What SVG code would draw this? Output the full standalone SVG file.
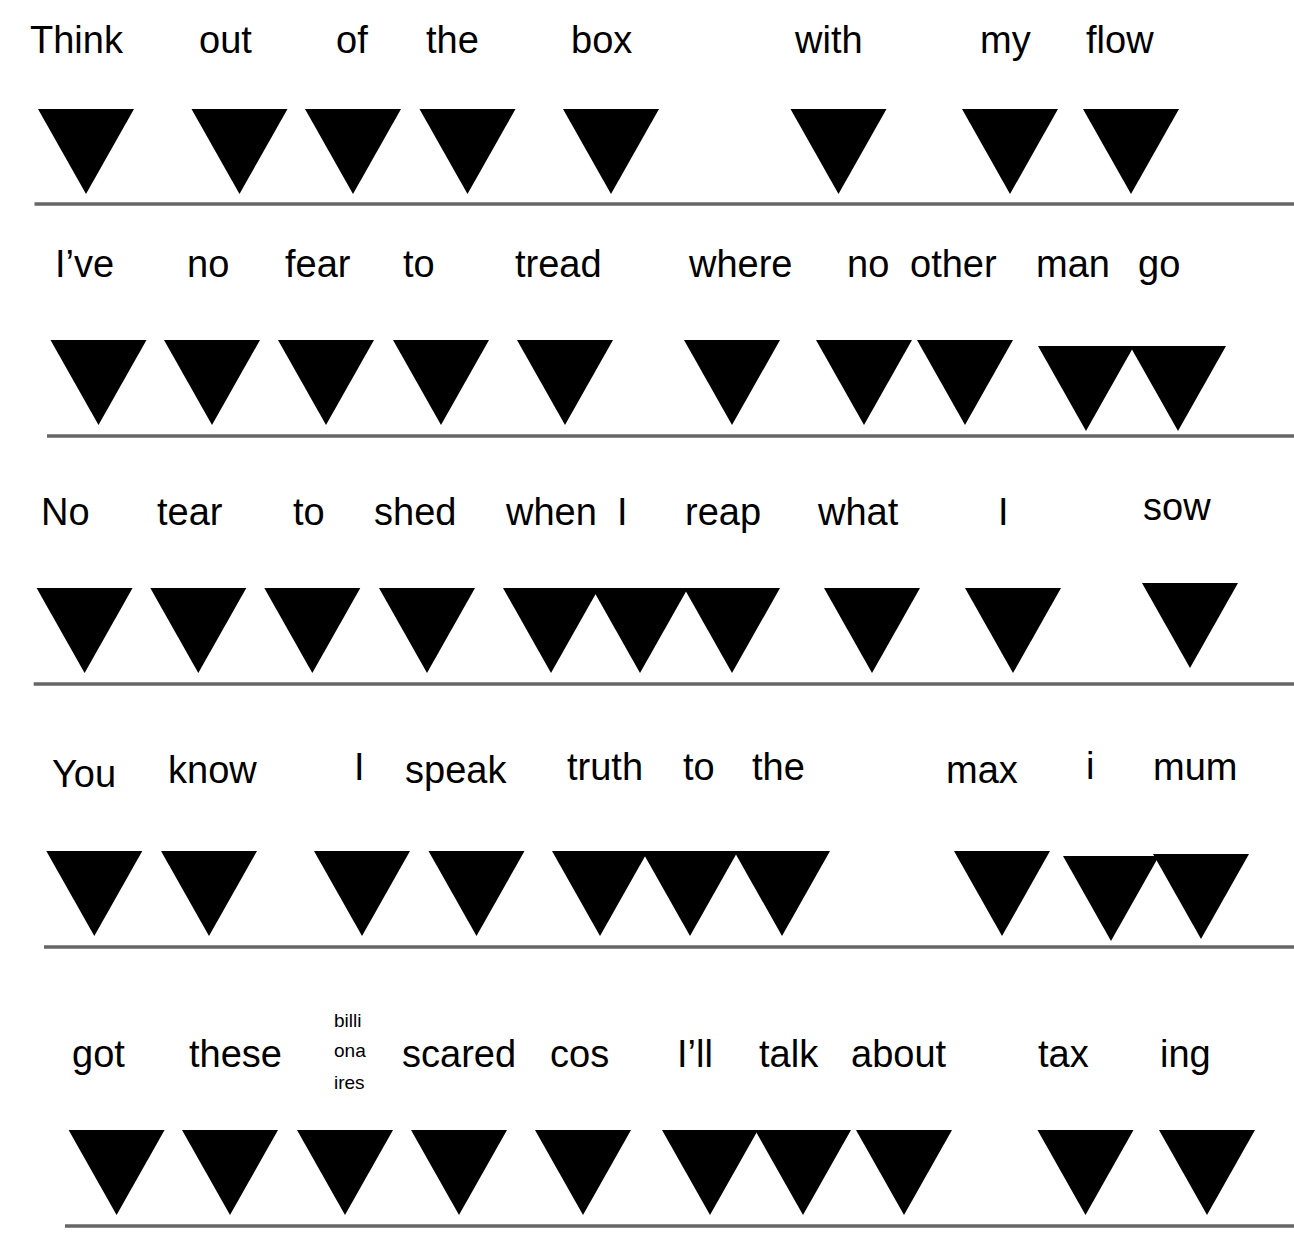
<svg xmlns="http://www.w3.org/2000/svg" xmlns:xlink="http://www.w3.org/1999/xlink" width="1294" height="1245" viewBox="0 0 1294 1245">
<defs>
<style>
.w{font-family:"Liberation Sans",Arial,sans-serif;font-size:38px;fill:#000}
.s{font-family:"Liberation Sans",Arial,sans-serif;font-size:19px;fill:#000}
.ln{stroke:#666;stroke-width:3.5;fill:none}
</style>
<polygon id="tri" points="0,0 96,0 48,85" fill="#000"/>
</defs>
<rect width="1294" height="1245" fill="#fff"/>
<g id="row1">
<text class="w" x="30" y="53">Think</text>
<text class="w" x="199" y="53">out</text>
<text class="w" x="336" y="53">of</text>
<text class="w" x="426" y="53">the</text>
<text class="w" x="571" y="53">box</text>
<text class="w" x="795" y="53">with</text>
<text class="w" x="980" y="53">my</text>
<text class="w" x="1086" y="53">flow</text>
<use xlink:href="#tri" x="38" y="109"/>
<use xlink:href="#tri" x="191.5" y="109"/>
<use xlink:href="#tri" x="305" y="109"/>
<use xlink:href="#tri" x="419.5" y="109"/>
<use xlink:href="#tri" x="563" y="109"/>
<use xlink:href="#tri" x="790.5" y="109"/>
<use xlink:href="#tri" x="962" y="109"/>
<use xlink:href="#tri" x="1083" y="109"/>
</g>
<g id="row2">
<text class="w" x="55" y="277">I’ve</text>
<text class="w" x="187" y="277">no</text>
<text class="w" x="285" y="277">fear</text>
<text class="w" x="403" y="277">to</text>
<text class="w" x="515" y="277">tread</text>
<text class="w" x="689" y="277">where</text>
<text class="w" x="847" y="277">no</text>
<text class="w" x="910" y="277">other</text>
<text class="w" x="1036" y="277">man</text>
<text class="w" x="1138" y="277">go</text>
<use xlink:href="#tri" x="50.5" y="340"/>
<use xlink:href="#tri" x="164" y="340"/>
<use xlink:href="#tri" x="278" y="340"/>
<use xlink:href="#tri" x="393" y="340"/>
<use xlink:href="#tri" x="517" y="340"/>
<use xlink:href="#tri" x="684" y="340"/>
<use xlink:href="#tri" x="816" y="340"/>
<use xlink:href="#tri" x="917" y="340"/>
<use xlink:href="#tri" x="1038" y="346"/>
<use xlink:href="#tri" x="1130" y="346"/>
</g>
<g id="row3">
<text class="w" x="41" y="525">No</text>
<text class="w" x="157" y="525">tear</text>
<text class="w" x="293" y="525">to</text>
<text class="w" x="374" y="525">shed</text>
<text class="w" x="506" y="525">when</text>
<text class="w" x="617" y="525">I</text>
<text class="w" x="685" y="525">reap</text>
<text class="w" x="818" y="525">what</text>
<text class="w" x="998" y="525">I</text>
<text class="w" x="1143" y="520">sow</text>
<use xlink:href="#tri" x="36.6" y="588"/>
<use xlink:href="#tri" x="150.3" y="588"/>
<use xlink:href="#tri" x="264.3" y="588"/>
<use xlink:href="#tri" x="379" y="588"/>
<use xlink:href="#tri" x="503" y="588"/>
<use xlink:href="#tri" x="592" y="588"/>
<use xlink:href="#tri" x="684" y="588"/>
<use xlink:href="#tri" x="824" y="588"/>
<use xlink:href="#tri" x="965" y="588"/>
<use xlink:href="#tri" x="1142" y="583"/>
</g>
<g id="row4">
<text class="w" x="52" y="787">You</text>
<text class="w" x="168" y="783">know</text>
<text class="w" x="354" y="780">I</text>
<text class="w" x="405" y="783">speak</text>
<text class="w" x="567" y="780">truth</text>
<text class="w" x="683" y="780">to</text>
<text class="w" x="752" y="780">the</text>
<text class="w" x="946" y="783">max</text>
<text class="w" x="1086" y="779">i</text>
<text class="w" x="1153" y="780">mum</text>
<use xlink:href="#tri" x="46.3" y="851"/>
<use xlink:href="#tri" x="161" y="851"/>
<use xlink:href="#tri" x="314" y="851"/>
<use xlink:href="#tri" x="428.5" y="851"/>
<use xlink:href="#tri" x="552" y="851"/>
<use xlink:href="#tri" x="642" y="851"/>
<use xlink:href="#tri" x="734" y="851"/>
<use xlink:href="#tri" x="954" y="851"/>
<use xlink:href="#tri" x="1063" y="856"/>
<use xlink:href="#tri" x="1153" y="854"/>
</g>
<g id="row5">
<text class="w" x="72" y="1067">got</text>
<text class="w" x="189" y="1067">these</text>
<text class="s" x="334" y="1027">billi</text>
<text class="s" x="334" y="1057">ona</text>
<text class="s" x="334" y="1089">ires</text>
<text class="w" x="402" y="1067">scared</text>
<text class="w" x="550" y="1067">cos</text>
<text class="w" x="677" y="1067">I’ll</text>
<text class="w" x="759" y="1067">talk</text>
<text class="w" x="851" y="1067">about</text>
<text class="w" x="1038" y="1067">tax</text>
<text class="w" x="1160" y="1067">ing</text>
<use xlink:href="#tri" x="68.6" y="1130"/>
<use xlink:href="#tri" x="182" y="1130"/>
<use xlink:href="#tri" x="297" y="1130"/>
<use xlink:href="#tri" x="411" y="1130"/>
<use xlink:href="#tri" x="535" y="1130"/>
<use xlink:href="#tri" x="662" y="1130"/>
<use xlink:href="#tri" x="755" y="1130"/>
<use xlink:href="#tri" x="856" y="1130"/>
<use xlink:href="#tri" x="1037.5" y="1130"/>
<use xlink:href="#tri" x="1159" y="1130"/>
</g>
<g id="lines">
<line class="ln" x1="34.5" y1="204" x2="1294" y2="204"/>
<line class="ln" x1="47" y1="436" x2="1294" y2="436"/>
<line class="ln" x1="33.7" y1="684" x2="1294" y2="684"/>
<line class="ln" x1="44" y1="947" x2="1294" y2="947"/>
<line class="ln" x1="65" y1="1226" x2="1294" y2="1226"/>
</g>
</svg>
